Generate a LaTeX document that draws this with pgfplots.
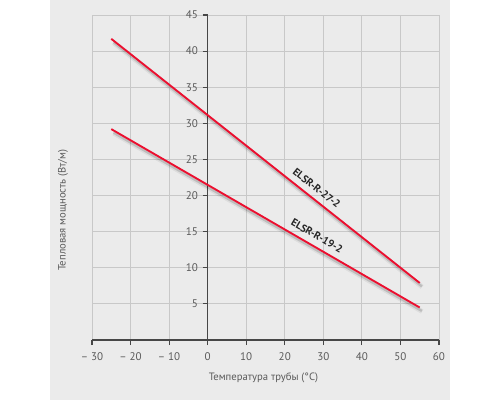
\documentclass[border=0pt]{standalone}
\usepackage{fontspec}
\setmainfont{PT Sans}
\usepackage{pgfplots}
\pgfplotsset{compat=1.18}
\definecolor{panel}{HTML}{EBEBEB}
\definecolor{gridc}{HTML}{C8C8C8}
\definecolor{axc}{HTML}{474747}
\definecolor{txt}{HTML}{5A5A5A}
\definecolor{redl}{HTML}{EC0F2F}
\begin{document}
\begin{tikzpicture}[x=1pt,y=1pt]
\useasboundingbox (0,0) rectangle (375,300);
\fill[white] (0,0) rectangle (375,300);
\fill[panel] (37.5,0) rectangle (337.5,300);
\begin{axis}[
  at={(69pt,45pt)}, anchor=south west,
  scale only axis, width=260.25pt, height=243.75pt,
  xmin=-30, xmax=60, ymin=0, ymax=45,
  axis lines=middle,
  axis line style={-, axc, line width=0.9pt},
  hide obscured x ticks=false,
  hide obscured y ticks=false,
  xtick={-30,-20,...,60},
  xticklabels={{– 30},{– 20},{– 10},0,10,20,30,40,50,60},
  ytick={5,10,...,45},
  tick align=outside,
  major tick length=3.75pt,
  tick style={axc, line width=0.8pt},
  grid=major,
  grid style={gridc, line width=0.7pt},
  ticklabel style={font=\fontsize{8.3}{10}\selectfont, text=txt},
  /pgf/number format/assume math mode=true,
  xticklabel style={yshift=-2pt},
  clip=false,
]
% shadows
\addplot[black, opacity=0.06, line width=3.6pt, xshift=1.8pt, yshift=-3pt] coordinates {(-25,41.7) (55,7.9)};
\addplot[black, opacity=0.14, line width=1.8pt, xshift=1.6pt, yshift=-2.6pt] coordinates {(-25,41.7) (55,7.9)};
\addplot[black, opacity=0.06, line width=3.6pt, xshift=1.8pt, yshift=-3pt] coordinates {(-25,29.2) (55,4.5)};
\addplot[black, opacity=0.14, line width=1.8pt, xshift=1.6pt, yshift=-2.6pt] coordinates {(-25,29.2) (55,4.5)};
% lines
\addplot[redl, line width=1.4pt] coordinates {(-25,41.7) (55,7.9)}
  node[pos=0.645, sloped, above=1pt, text=black!85, font=\bfseries\fontsize{7.9}{9}\selectfont] {ELSR-R-27-2};
\addplot[redl, line width=1.4pt] coordinates {(-25,29.2) (55,4.5)}
  node[pos=0.65, sloped, above=1pt, text=black!85, font=\bfseries\fontsize{7.9}{9}\selectfont] {ELSR-R-19-2};
\end{axis}
\node[text=txt, font=\fontsize{8}{10}\selectfont] at (197.6,16.5) {Температура трубы (°C)};
\node[text=txt, font=\fontsize{8}{10}\selectfont, rotate=90] at (47.3,142.5) {Тепловая мощность (Вт/м)};
\end{tikzpicture}
\end{document}
